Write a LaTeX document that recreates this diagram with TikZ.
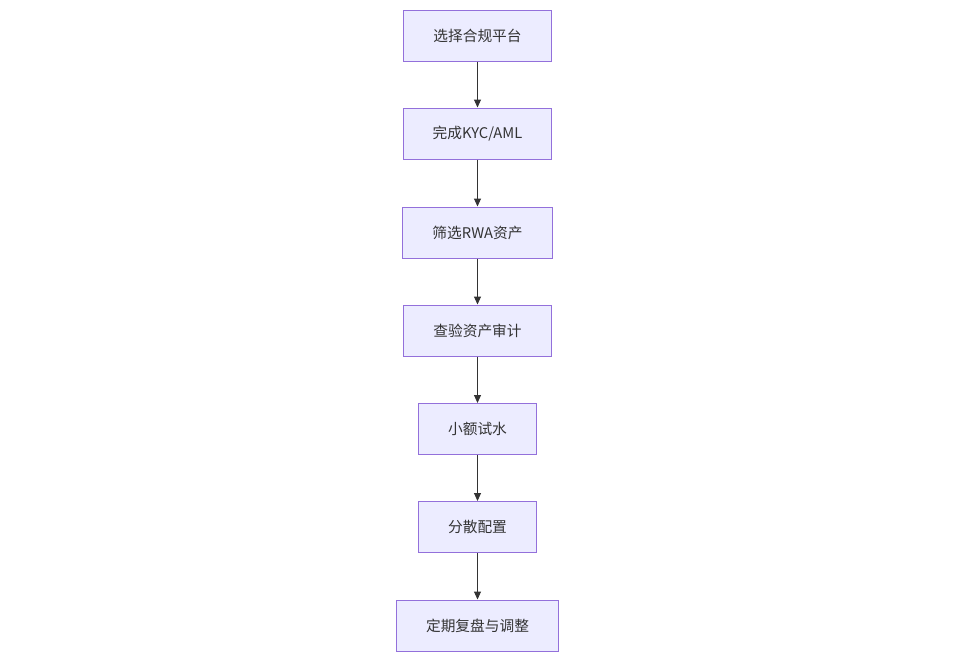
\documentclass[tikz,border=0pt]{standalone}
\usepackage{fontspec}
\setmainfont{Noto Sans CJK SC}
\usetikzlibrary{arrows.meta}
\definecolor{boxfill}{HTML}{ECECFF}
\definecolor{boxline}{HTML}{9370DB}
\definecolor{arrowline}{HTML}{333333}
\tikzset{
  stepbox/.style={draw=boxline, fill=boxfill, line width=1pt, minimum height=51pt,
    inner xsep=29.5pt, text=arrowline, font=\fontsize{14.7}{17}\selectfont},
  flow/.style={draw=arrowline, line width=1pt, -{Triangle[length=8pt,width=7pt]}}
}
\begin{document}
\begin{tikzpicture}[x=1pt, y=-1pt]
\useasboundingbox (0,0) rectangle (960,662);
\node[stepbox] (platform) at (477.5, 35.5) {选择合规平台};
\node[stepbox] (kyc) at (477.5, 133.5) {完成KYC/AML};
\node[stepbox] (rwa) at (477.5, 232.5) {筛选RWA资产};
\node[stepbox] (audit) at (477.5, 330.5) {查验资产审计};
\node[stepbox] (trial) at (477.5, 429) {小额试水};
\node[stepbox] (spread) at (477.5, 527) {分散配置};
\node[stepbox] (review) at (477.5, 625.5) {定期复盘与调整};

\draw[flow] (platform) -- (kyc);
\draw[flow] (kyc) -- (rwa);
\draw[flow] (rwa) -- (audit);
\draw[flow] (audit) -- (trial);
\draw[flow] (trial) -- (spread);
\draw[flow] (spread) -- (review);
\end{tikzpicture}
\end{document}
